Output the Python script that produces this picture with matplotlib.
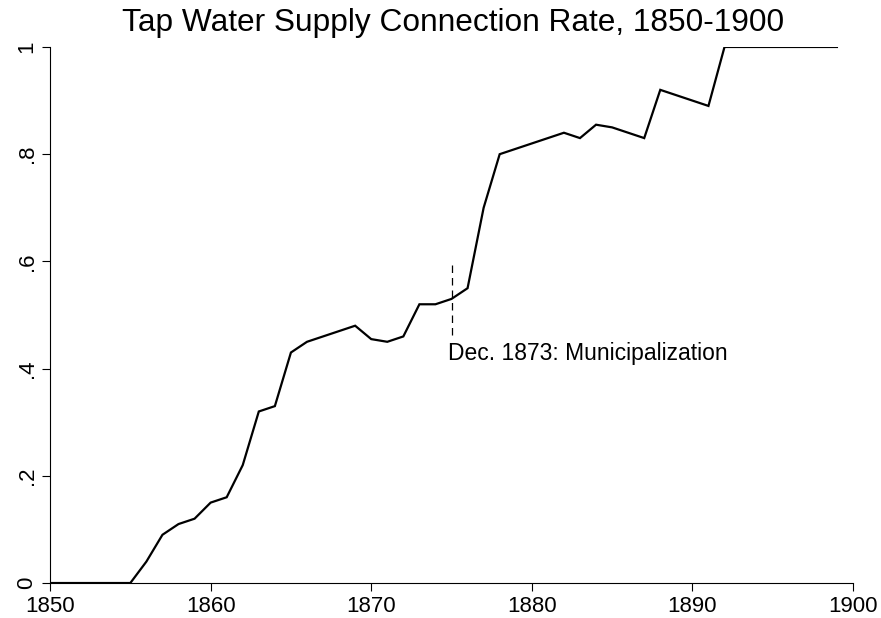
import matplotlib
matplotlib.use("Agg")
import matplotlib.pyplot as plt

plt.rcParams["font.family"] = ["Liberation Sans", "DejaVu Sans"]

years = list(range(1850, 1900))
rate = [0, 0, 0, 0, 0, 0, 0.04, 0.09, 0.11, 0.12,
        0.15, 0.16, 0.22, 0.32, 0.33, 0.43, 0.45, 0.46, 0.47, 0.48,
        0.455, 0.45, 0.46, 0.52, 0.52, 0.53, 0.55, 0.70, 0.80, 0.81,
        0.82, 0.83, 0.84, 0.83, 0.855, 0.85, 0.84, 0.83, 0.92, 0.91,
        0.90, 0.89, 1.0, 1.0, 1.0, 1.0, 1.0, 1.0, 1.0, 1.0]

event_year = 1875
event_label = "Dec. 1873: Municipalization"
xticks = [1850, 1860, 1870, 1880, 1890, 1900]
yticks = [0, 0.2, 0.4, 0.6, 0.8, 1.0]
ylabels = ["0", ".2", ".4", ".6", ".8", "1"]

fig = plt.figure(figsize=(8.81, 6.18), dpi=100)
ax = fig.add_axes([0.0568, 0.0566, 0.9114, 0.8674])

ax.plot(years, rate, color="black", lw=1.6, solid_joinstyle="miter")
ax.plot([event_year, event_year], [0.463, 0.6], color="black", lw=0.9,
        linestyle=(0, (6, 4)))
ax.text(event_year - 0.2, 0.429, event_label, fontsize=16.5, va="center", ha="left")

ax.set_xlim(1850, 1900)
ax.set_ylim(0, 1)
ax.set_xticks(xticks)
ax.set_yticks(yticks)
ax.set_yticklabels(ylabels, rotation=90, va="center")
ax.tick_params(axis="both", direction="out", length=6, width=0.8, labelsize=16, pad=3)
for side in ["top", "right"]:
    ax.spines[side].set_visible(False)
for side in ["left", "bottom"]:
    ax.spines[side].set_linewidth(0.8)

# title is centred over the plot region, not the whole figure
fig.text(0.514, 0.962, "Tap Water Supply Connection Rate, 1850-1900", fontsize=22.8,
         ha="center", va="center")

fig.savefig("out.png", dpi=100)
